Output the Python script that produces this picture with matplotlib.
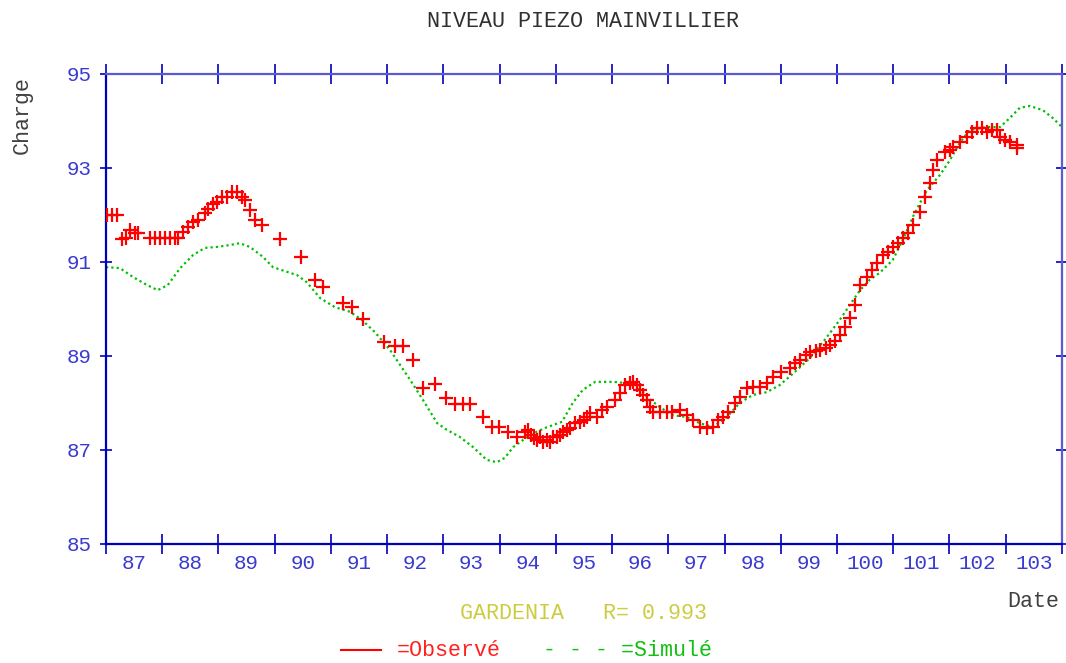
## Niveau piezo Mainvillier: observed vs simulated head
import numpy as np
import matplotlib.pyplot as plt
from matplotlib.lines import Line2D

plt.rcParams['font.family'] = ['Liberation Mono', 'DejaVu Sans Mono']

# Observed head (year, charge)
obs_year = [87.02, 87.11, 87.20, 87.28, 87.36, 87.43, 87.52, 87.57, 87.78, 87.87,
            87.96, 88.05, 88.14, 88.23, 88.28, 88.37, 88.46, 88.55, 88.64, 88.76,
            88.81, 88.90, 88.97, 89.06, 89.15, 89.24, 89.33, 89.42, 89.47, 89.56,
            89.65, 89.77, 90.09, 90.47, 90.72, 90.86, 91.21, 91.37, 91.57, 91.94,
            92.14, 92.28, 92.46, 92.64, 92.85, 93.05, 93.21, 93.35, 93.47, 93.70,
            93.86, 93.99, 94.15, 94.31, 94.45, 94.50, 94.56, 94.61, 94.66, 94.72,
            94.77, 94.84, 94.89, 94.95, 95.02, 95.07, 95.13, 95.20, 95.25, 95.34,
            95.43, 95.50, 95.55, 95.61, 95.73, 95.82, 95.91, 96.05, 96.14, 96.23,
            96.32, 96.37, 96.44, 96.50, 96.55, 96.62, 96.67, 96.73, 96.85, 96.98,
            97.06, 97.21, 97.33, 97.44, 97.56, 97.69, 97.79, 97.88, 97.97, 98.06,
            98.18, 98.27, 98.40, 98.50, 98.63, 98.75, 98.86, 99.00, 99.16, 99.25,
            99.34, 99.44, 99.52, 99.62, 99.70, 99.80, 99.87, 99.96, 100.05, 100.14,
            100.23, 100.32, 100.41, 100.53, 100.62, 100.71, 100.82, 100.90, 100.99, 101.08,
            101.17, 101.26, 101.35, 101.47, 101.56, 101.65, 101.70, 101.78, 101.92, 102.01,
            102.06, 102.18, 102.31, 102.40, 102.49, 102.58, 102.66, 102.75, 102.84, 102.90,
            102.98, 103.07, 103.20, 103.20]
obs_val = [92.00, 92.00, 92.00, 91.49, 91.50, 91.68, 91.62, 91.62, 91.50, 91.50,
           91.50, 91.50, 91.50, 91.50, 91.50, 91.64, 91.75, 91.85, 91.90, 92.04,
           92.13, 92.23, 92.28, 92.38, 92.38, 92.49, 92.49, 92.38, 92.32, 92.11,
           91.90, 91.79, 91.49, 91.11, 90.62, 90.47, 90.12, 90.04, 89.79, 89.30,
           89.21, 89.21, 88.91, 88.32, 88.40, 88.11, 87.98, 87.98, 87.98, 87.70,
           87.49, 87.49, 87.38, 87.28, 87.38, 87.43, 87.32, 87.26, 87.21, 87.28,
           87.17, 87.21, 87.17, 87.28, 87.28, 87.32, 87.38, 87.43, 87.47, 87.57,
           87.60, 87.64, 87.70, 87.79, 87.70, 87.85, 87.91, 88.06, 88.21, 88.38,
           88.43, 88.45, 88.38, 88.28, 88.17, 88.06, 87.91, 87.81, 87.81, 87.81,
           87.81, 87.85, 87.74, 87.64, 87.49, 87.47, 87.49, 87.64, 87.70, 87.81,
           88.00, 88.13, 88.32, 88.34, 88.34, 88.43, 88.55, 88.66, 88.74, 88.85,
           88.91, 89.02, 89.09, 89.10, 89.13, 89.18, 89.23, 89.32, 89.45, 89.62,
           89.81, 90.09, 90.51, 90.68, 90.82, 90.98, 91.15, 91.22, 91.32, 91.40,
           91.51, 91.62, 91.79, 92.06, 92.38, 92.68, 92.96, 93.17, 93.34, 93.38,
           93.45, 93.55, 93.66, 93.77, 93.85, 93.85, 93.77, 93.81, 93.81, 93.66,
           93.60, 93.55, 93.49, 93.43]

# Simulated head (year, charge)
sim_year = [87.00, 87.25, 87.48, 87.73, 87.92, 88.10, 88.32, 88.55, 88.76, 88.97,
            89.20, 89.38, 89.56, 89.79, 89.97, 90.22, 90.40, 90.57, 90.81, 91.07,
            91.34, 91.55, 91.78, 92.05, 92.41, 92.64, 92.89, 93.06, 93.29, 93.53,
            93.77, 93.95, 94.09, 94.24, 94.54, 94.81, 95.11, 95.30, 95.48, 95.70,
            96.02, 96.20, 96.37, 96.62, 96.85, 97.08, 97.33, 97.56, 97.79, 98.04,
            98.27, 98.50, 98.75, 98.98, 99.25, 99.52, 99.78, 100.05, 100.23, 100.41,
            100.58, 100.76, 100.99, 101.17, 101.38, 101.60, 101.83, 102.01, 102.18, 102.36,
            102.66, 102.90, 103.07, 103.25, 103.43, 103.66, 103.84, 104.00]
sim_val = [90.89, 90.87, 90.68, 90.51, 90.40, 90.51, 90.87, 91.15, 91.30, 91.32,
           91.36, 91.40, 91.32, 91.11, 90.89, 90.79, 90.72, 90.57, 90.23, 90.04,
           89.94, 89.77, 89.51, 89.13, 88.49, 88.06, 87.57, 87.43, 87.28, 87.06,
           86.79, 86.74, 86.83, 87.06, 87.32, 87.47, 87.60, 88.00, 88.28, 88.45,
           88.45, 88.43, 88.45, 88.13, 87.91, 87.74, 87.70, 87.57, 87.49, 87.70,
           88.00, 88.17, 88.23, 88.38, 88.66, 88.96, 89.34, 89.77, 90.09, 90.40,
           90.62, 90.77, 91.04, 91.47, 92.04, 92.53, 92.85, 93.17, 93.53, 93.81,
           93.87, 93.87, 94.06, 94.28, 94.32, 94.23, 94.06, 93.87]

years = list(range(87, 105))
year_labels = [str(y) for y in range(87, 104)]
y_ticks = [85, 87, 89, 91, 93, 95]

blue = '#0000c0'
lblue = '#5a5ad2'
tickc = '#3a3ad0'

fig = plt.figure(figsize=(10.66, 6.63), dpi=100)
ax = fig.add_axes([0.0994, 0.1795, 0.8968, 0.7089])

ax.plot(sim_year, sim_val, color='#00c000', lw=1.6, ls=(0, (1, 1.4)), zorder=2)
ax.plot(obs_year, obs_val, '+', color='#ff0000', ms=10, mew=1.6, zorder=3)

ax.set_xlim(87, 104)
ax.set_ylim(85, 95)

ax.set_xticks(years)
ax.set_xticks([y + 0.5 for y in range(87, 104)], minor=True)
ax.set_xticklabels([])
ax.set_xticklabels(year_labels, minor=True)
ax.set_yticks(y_ticks)
ax.set_yticklabels([str(v) for v in y_ticks])

ax.tick_params(axis='x', which='major', direction='inout', length=14, width=1.2,
               color=blue, top=True, bottom=True)
ax.tick_params(axis='x', which='minor', length=0, pad=7, labelsize=15, labelcolor=tickc)
ax.tick_params(axis='y', which='major', direction='inout', length=9, width=1.2,
               color=blue, left=True, right=True, labelsize=15, labelcolor=tickc, pad=6)

for side in ['left', 'bottom']:
    ax.spines[side].set_color(blue)
    ax.spines[side].set_linewidth(1.6)
for side in ['top', 'right']:
    ax.spines[side].set_color(lblue)
    ax.spines[side].set_linewidth(1.6)

fig.text(0.547, 0.968, 'NIVEAU PIEZO MAINVILLIER', ha='center', va='center',
         fontsize=15.6, color='#303030')
fig.text(0.021, 0.827, 'Charge', rotation=90, ha='center', va='center',
         fontsize=15.6, color='#404040')
fig.text(0.969, 0.0935, 'Date', ha='center', va='center', fontsize=15.6, color='#404040')
fig.text(0.547, 0.0754, 'GARDENIA   R= 0.993', ha='center', va='center',
         fontsize=15.6, color='#cccc40')

fig.add_artist(Line2D([0.320, 0.357], [0.0196, 0.0196], color='#ff0000', lw=1.5,
                      transform=fig.transFigure))
fig.text(0.372, 0.0196, '=Observé', ha='left', va='center', fontsize=15.6, color='#ff2020')
fig.text(0.509, 0.0196, '- - - =Simulé', ha='left', va='center', fontsize=15.6,
         color='#10c010')

fig.savefig('out.png', dpi=100)
